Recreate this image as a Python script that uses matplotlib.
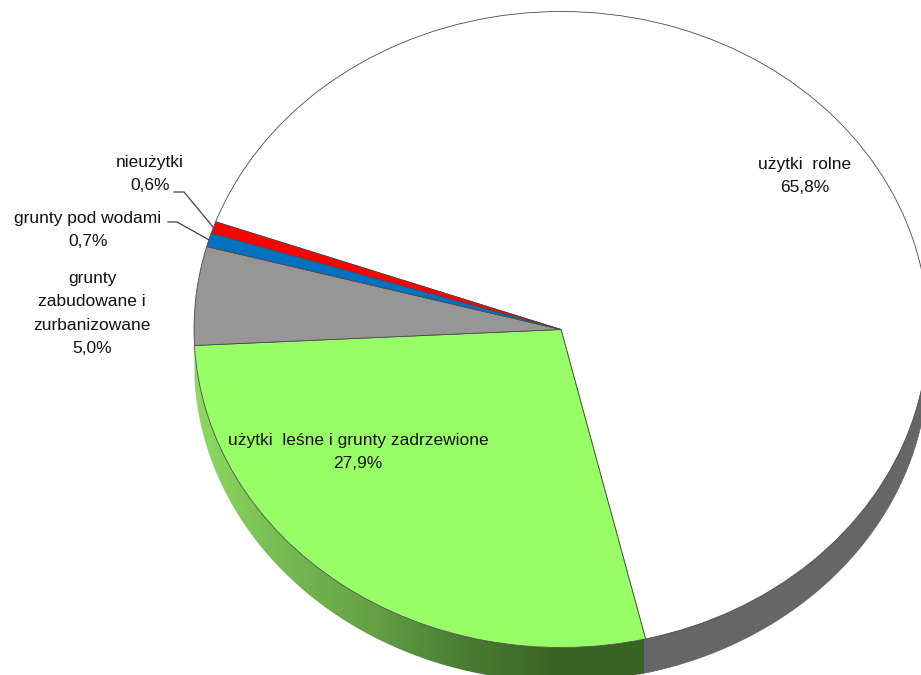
import numpy as np
import matplotlib
matplotlib.use("Agg")
import matplotlib.pyplot as plt
from matplotlib.colors import LinearSegmentedColormap
from matplotlib.path import Path
from matplotlib.patches import PathPatch

plt.rcParams['font.family'] = ['Liberation Sans', 'DejaVu Sans']

categories = ["użytki  rolne", "użytki  leśne i grunty zadrzewione",
              "grunty\nzabudowane i\nzurbanizowane", "grunty pod wodami", "nieużytki"]
values = [65.8, 27.9, 5.0, 0.7, 0.6]
value_labels = ["65,8%", "27,9%", "5,0%", "0,7%", "0,6%"]
colors = ["#ffffff", "#99ff66", "#969696", "#0070c0", "#ff0000"]

W, H = 921, 675
CX, CY, RX, RY = 561, 329.5, 367, 318
DEPTH = 34 / RY
START = 160.2

fig = plt.figure(figsize=(W / 100, H / 100), dpi=100)
ax = fig.add_axes([0, 0, 1, 1])


def px(x, y):
    return (x - CX) / RX, (CY - y) / RY


wedges, _ = ax.pie(values, colors=colors, startangle=START, counterclock=False, radius=1,
                   wedgeprops=dict(edgecolor="#4a4a4a", linewidth=0.6, zorder=3))
ax.set_aspect('auto')


def side_path(a0, a1):
    t = np.radians(np.linspace(a0, a1, 200))
    x, y = np.cos(t), np.sin(t)
    verts = np.r_[np.c_[x, y], np.c_[x, y - DEPTH][::-1], [[x[0], y[0]]]]
    codes = [Path.MOVETO] + [Path.LINETO] * (len(verts) - 1)
    return Path(verts, codes)


# side walls, following the slice angles
g = wedges[1]
w = wedges[0]
white_wall = PathPatch(side_path(w.theta1 - 1, 0), facecolor="#666666", edgecolor="#555555",
                       linewidth=0.4, zorder=1)
ax.add_patch(white_wall)

green_cmap = LinearSegmentedColormap.from_list(
    "side", ["#8edb60", "#76ba52", "#64a046", "#4a7c33", "#3a6426", "#3a6426"])
green_wall = PathPatch(side_path(g.theta1, g.theta2), facecolor="none", edgecolor="none", zorder=1.5)
ax.add_patch(green_wall)
grad = np.linspace(0, 1, 256)[None, :]
img = ax.imshow(grad, cmap=green_cmap, aspect='auto', zorder=1.5,
                extent=(px(194, 0)[0], px(644, 0)[0], -1.2, 0.1))
img.set_clip_path(green_wall)

ax.set_xlim(px(0, 0)[0], px(W, 0)[0])
ax.set_ylim(px(0, H)[1], px(0, 0)[1])
ax.axis('off')


def edge_point(wedge):
    a = np.radians((wedge.theta1 + wedge.theta2) / 2)
    return np.cos(a), np.sin(a)


# leader lines from the small slices to their labels
for wedge, (x0, x1, y) in zip([wedges[4], wedges[3]], [(174, 184, 192), (168, 177, 222)]):
    ex, ey = edge_point(wedge)
    p0, p1 = px(x0, y), px(x1, y)
    ax.plot([p0[0], p1[0], ex], [p0[1], p1[1], ey], color="#404040", lw=0.9, zorder=4,
            solid_joinstyle='miter')

label_pos = [(805, 176), (358, 452), (92, 313.5), (88, 230), (150, 174)]
for name, val, (x, y) in zip(categories, value_labels, label_pos):
    tx, ty = px(x, y)
    ax.text(tx, ty, f"{name}\n{val}", ha='center', va='center', fontsize=12.5,
            color="#111111", linespacing=1.72, zorder=5)

fig.savefig("out.png", dpi=100, facecolor="white")
